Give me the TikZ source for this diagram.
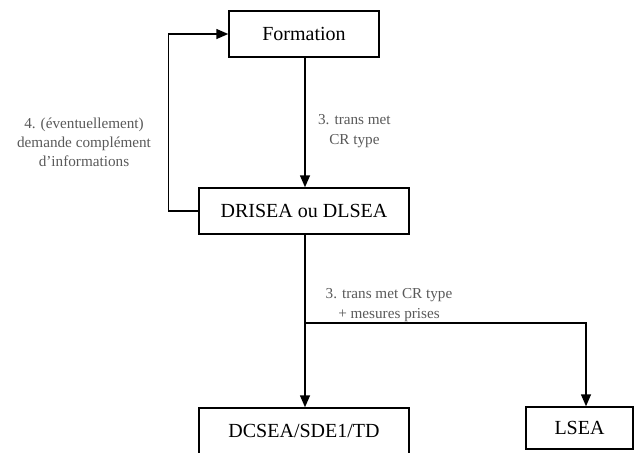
\documentclass[tikz,border=0pt]{standalone}
\usepackage{fontspec}
\setmainfont{Liberation Serif}
\usetikzlibrary{arrows.meta}

\begin{document}
\begin{tikzpicture}[x=0.5pt, y=-0.5pt,
    every node/.style = {align=center},
    box/.style = {draw, line width=0.75pt, inner sep=0pt, font=\fontsize{10}{12}\selectfont},
    lbl/.style = {text=black!65, font=\fontsize{7.6}{9.6}\selectfont},
    flow/.style = {line width=0.75pt, -{Triangle[length=6pt,width=5pt]}}]
 \clip (0,0) rectangle (635,452);
 \node [box, minimum width=75pt, minimum height=23pt] (form) at (304,34) {Formation};
 \node [box, minimum width=105pt, minimum height=23pt] (dri) at (304,211) {DRISEA ou DLSEA};
 \node [box, minimum width=105pt, minimum height=23pt] (dcsea) at (304,431) {DCSEA/SDE1/TD};
 \node [box, minimum width=53.5pt, minimum height=21pt] (lsea) at (579.5,428) {LSEA};
 \coordinate (branch) at (305,323);
 \coordinate (turn) at (586,323);
 \draw [flow] (form.south -| branch) -- (dri.north -| branch);
 \draw [flow] (dri.west) -- ++(-30,0) |- (form.west);
 \draw [flow] (dri.south -| branch) -- (dcsea.north -| branch);
 \draw [flow] (branch) -- (turn) -- (turn |- lsea.north);
 \node [lbl, anchor=west] (trans) at (311,131) {3. trans met\\CR type};
 \node [lbl] (demande) at (84,142) {4. (éventuellement)\\demande complément\\d'informations};
 \node [lbl] (mesures) at (389,305) {3. trans met CR type\\+ mesures prises};
\end{tikzpicture}
\end{document}
